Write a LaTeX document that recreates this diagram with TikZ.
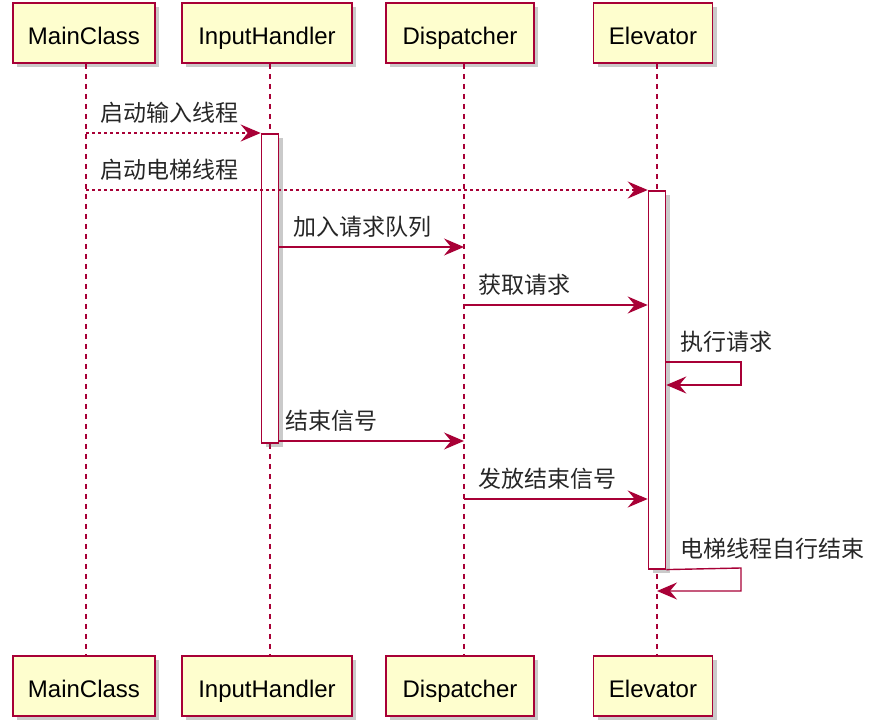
\documentclass[tikz,border=0pt]{standalone}
\usepackage{fontspec}
\setmainfont{Liberation Sans}
\newfontfamily\cjk{Noto Sans CJK SC}
\usetikzlibrary{arrows.meta,shadows}

\definecolor{umlred}{HTML}{A80036}
\definecolor{umlfill}{HTML}{FEFECE}

\begin{document}
\begin{tikzpicture}[
            x = 1pt, y = -1pt, % pixel-like units, y going down
            > = {Stealth[length=20pt,width=17pt,inset=7pt]}, % arrow head style
            umlshadow/.style = {drop shadow={shadow xshift=4pt, shadow yshift=-4pt, opacity=0.35, fill=black!60}},
            party/.style = {draw=umlred, fill=umlfill, line width=1.6pt, minimum height=60pt,
                            inner sep=0pt, text height=23pt, text depth=0pt,
                            font=\fontsize{24}{28}\selectfont, umlshadow},
            lifeline/.style = {umlred, line width=1.3pt, dash pattern=on 5pt off 5pt},
            actbar/.style = {draw=umlred, fill=white, line width=1.6pt, minimum width=17pt,
                             inner sep=0pt, umlshadow},
            msg/.style = {umlred, line width=1.4pt, ->},
            async/.style = {msg, dash pattern=on 3pt off 3pt},
            lbl/.style = {black!85, font=\cjk\fontsize{23}{26}\selectfont, anchor=base west, inner sep=0pt}
        ]

	\useasboundingbox (0,0) rectangle (879,727);

	% participants, top and bottom
	\node[party, minimum width=142pt] (mainTop) at (84,33) {MainClass};
	\node[party, minimum width=170pt] (inputTop) at (267,33) {InputHandler};
	\node[party, minimum width=148pt] (dispTop) at (460,33) {Dispatcher};
	\node[party, minimum width=119pt] (elevTop) at (653,33) {Elevator};

	\node[party, minimum width=142pt] (mainBot) at (84,686) {MainClass};
	\node[party, minimum width=170pt] (inputBot) at (267,686) {InputHandler};
	\node[party, minimum width=148pt] (dispBot) at (460,686) {Dispatcher};
	\node[party, minimum width=119pt] (elevBot) at (653,686) {Elevator};

	% lifeline positions
	\coordinate (mainX) at (86,0);
	\coordinate (inputX) at (270,0);
	\coordinate (dispX) at (464,0);
	\coordinate (elevX) at (657,0);

	% lifelines
	\draw[lifeline] (mainX |- mainTop.south) -- (mainX |- mainBot.north);
	\draw[lifeline] (inputX |- inputTop.south) -- (inputX |- inputBot.north);
	\draw[lifeline] (dispX |- dispTop.south) -- (dispX |- dispBot.north);
	\draw[lifeline] (elevX |- elevTop.south) -- (elevX |- elevBot.north);

	% activations
	\node[actbar, minimum height=309pt, anchor=north] (inputAct) at (270,133) {};
	\node[actbar, minimum height=378pt, anchor=north] (elevAct) at (657,190) {};

	% message rows
	\coordinate (m1) at (0,133);
	\coordinate (m2) at (0,190);
	\coordinate (m3) at (0,247);
	\coordinate (m4) at (0,305);
	\coordinate (m5) at (0,385);
	\coordinate (m6) at (0,441);
	\coordinate (m7) at (0,499);
	\coordinate (m8) at (0,591);
	\coordinate (selfA) at (741,362);
	\coordinate (selfB) at (741,568);

	\draw[async] (mainX |- m1) -- (inputAct.west |- m1);
	\node[lbl] (l1) at (100,122) {启动输入线程};
	\draw[async] (mainX |- m2) -- (elevAct.west |- m2);
	\node[lbl] (l2) at (100,179) {启动电梯线程};
	\draw[msg] (inputAct.east |- m3) -- (dispX |- m3);
	\node[lbl] (l3) at (293,236) {加入请求队列};
	\draw[msg] (dispX |- m4) -- (elevAct.west |- m4);
	\node[lbl] (l4) at (478,294) {获取请求};
	\draw[msg] (elevAct.east |- selfA) -- (selfA) -- (selfA |- m5) -- (elevAct.east |- m5);
	\node[lbl] (l5) at (680,351) {执行请求};
	\draw[msg] (inputAct.east |- m6) -- (dispX |- m6);
	\node[lbl] (l6) at (285,430) {结束信号};
	\draw[msg] (dispX |- m7) -- (elevAct.west |- m7);
	\node[lbl] (l7) at (478,488) {发放结束信号};
	\draw[msg] (elevAct.south east) -- (selfB) -- (selfB |- m8) -- (elevX |- m8);
	\node[lbl] (l8) at (680,557) {电梯线程自行结束};

\end{tikzpicture}
\end{document}
